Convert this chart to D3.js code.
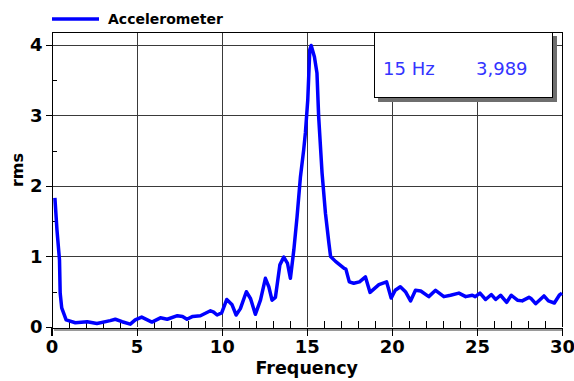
<!DOCTYPE html>
<html>
<head>
<meta charset="utf-8">
<script src="https://cdn.jsdelivr.net/npm/d3@7"></script>
<style>
  html, body { margin: 0; padding: 0; background: #fff; }
  svg { display: block; }
  text { font-family: "DejaVu Sans", Verdana, sans-serif; }
</style>
</head>
<body>
<svg id="chart" width="574" height="381"></svg>
<script>
// Spectrum of the accelerometer signal: frequency (Hz) vs rms amplitude
const freq = [0.2, 0.32, 0.47, 0.51, 0.6, 0.86, 1.4, 2.1, 2.67, 3.45, 3.75, 4.15, 4.63, 4.92, 5.3, 5.9,
  6.4, 6.8, 7.4, 7.7, 7.96, 8.3, 8.75, 9.34, 9.53, 9.73, 10.0, 10.3, 10.6, 10.85, 11.1, 11.45, 11.7,
  11.98, 12.28, 12.57, 12.77, 12.96, 13.16, 13.42, 13.65, 13.87, 14.04, 14.24, 14.43, 14.63, 14.82,
  14.92, 15.06, 15.18, 15.26, 15.45, 15.6, 15.7, 15.9, 16.1, 16.3, 16.4, 16.69, 17.2, 17.3, 17.5,
  17.76, 18.1, 18.45, 18.72, 19.24, 19.69, 19.96, 20.2, 20.5, 20.8, 21.1, 21.39, 21.7, 22.17, 22.57,
  23.06, 23.45, 23.94, 24.34, 24.73, 24.9, 25.18, 25.51, 25.85, 26.1, 26.39, 26.75, 27.02, 27.38,
  27.66, 28.06, 28.2, 28.45, 28.94, 29.2, 29.55, 29.84, 30.0];
const rms = [1.83, 1.38, 0.95, 0.48, 0.27, 0.1, 0.06, 0.075, 0.05, 0.09, 0.11, 0.075, 0.04, 0.1, 0.14, 0.07,
  0.13, 0.11, 0.16, 0.15, 0.11, 0.15, 0.16, 0.23, 0.21, 0.17, 0.2, 0.39, 0.32, 0.17, 0.26, 0.5, 0.4,
  0.18, 0.38, 0.69, 0.57, 0.38, 0.42, 0.88, 0.99, 0.9, 0.69, 1.09, 1.56, 2.13, 2.51,
  2.75, 3.22, 3.93, 3.989, 3.83, 3.6, 2.98, 2.18, 1.61, 1.19, 1.0, 0.93, 0.83, 0.82, 0.64,
  0.62, 0.64, 0.71, 0.49, 0.6, 0.64, 0.41, 0.52, 0.57, 0.5, 0.37, 0.52, 0.51, 0.43, 0.52,
  0.43, 0.45, 0.48, 0.43, 0.45, 0.43, 0.48, 0.39, 0.46, 0.39, 0.45, 0.35, 0.45, 0.38,
  0.37, 0.42, 0.4, 0.33, 0.44, 0.37, 0.34, 0.45, 0.48];

const xTicks = [0, 5, 10, 15, 20, 25, 30];
const yTicks = [0, 1, 2, 3, 4];
const xMinorTicks = d3.range(1, 30);
const yMinorTicks = [0.5, 1.5, 2.5, 3.5];

const seriesName = "Accelerometer";
const markerLabel = "15 Hz";
const markerValue = "3,989";

const svg = d3.select("#chart");
const plotLeft = 51.5, plotRight = 562, plotTop = 32, plotBottom = 327;

const x = d3.scaleLinear().domain([0, 30]).range([plotLeft, plotRight]);
const y = d3.scaleLinear().domain([0, 4.18]).range([plotBottom, plotTop]);

// shadow under the bottom axis
svg.append("rect")
  .attr("x", 54).attr("y", plotBottom + 1).attr("width", plotRight - 54 + 1).attr("height", 3)
  .attr("fill", "#9a9a9a");

// grid
const grid = svg.append("g").attr("shape-rendering", "crispEdges");
grid.selectAll(".vg").data(xTicks.filter(d => d > 0 && d < 30)).join("line")
  .attr("x1", d => Math.round(x(d)) + 0.5).attr("x2", d => Math.round(x(d)) + 0.5)
  .attr("y1", plotTop).attr("y2", plotBottom).attr("stroke", "#3a3a3a");
grid.selectAll(".hg").data(yTicks.filter(d => d > 0)).join("line")
  .attr("y1", d => Math.round(y(d)) + 0.5).attr("y2", d => Math.round(y(d)) + 0.5)
  .attr("x1", plotLeft).attr("x2", plotRight).attr("stroke", "#3a3a3a");

// frame (top and right)
grid.append("line").attr("x1", plotLeft).attr("x2", plotRight + 0.5)
  .attr("y1", plotTop + 0.5).attr("y2", plotTop + 0.5).attr("stroke", "#000");
grid.append("line").attr("x1", Math.round(plotRight) + 0.5).attr("x2", Math.round(plotRight) + 0.5)
  .attr("y1", plotTop).attr("y2", plotBottom).attr("stroke", "#000");

// x axis: major ticks outward, minor ticks inward
const xAxis = svg.append("g")
  .attr("transform", `translate(0,${plotBottom + 0.5})`)
  .call(d3.axisBottom(x).tickValues(xTicks).tickFormat(d3.format("d"))
    .tickSize(8).tickSizeOuter(0).tickPadding(5))
  .attr("shape-rendering", "crispEdges");
xAxis.select(".domain").attr("stroke", "#000");
xAxis.selectAll("text").attr("font-size", 18).attr("font-weight", "bold").attr("fill", "#000")
  .attr("font-family", "DejaVu Sans");
xAxis.selectAll(".minor").data(xMinorTicks.filter(d => d % 5 !== 0)).join("line")
  .attr("class", "minor")
  .attr("x1", d => Math.round(x(d)) + 0.5).attr("x2", d => Math.round(x(d)) + 0.5)
  .attr("y1", 0).attr("y2", -7).attr("stroke", "#000");
// extend the bottom line a little past the left axis
xAxis.append("line").attr("x1", plotLeft - 6).attr("x2", plotLeft).attr("y1", 0).attr("y2", 0).attr("stroke", "#000");

// y axis
const yAxis = svg.append("g")
  .attr("transform", `translate(${Math.round(plotLeft) - 0.5},0)`)
  .call(d3.axisLeft(y).tickValues(yTicks).tickFormat(d3.format("d"))
    .tickSize(6).tickSizeOuter(0).tickPadding(3))
  .attr("shape-rendering", "crispEdges");
yAxis.select(".domain").attr("stroke", "#000");
yAxis.selectAll("text").attr("font-size", 18).attr("font-weight", "bold").attr("fill", "#000")
  .attr("font-family", "DejaVu Sans");
yAxis.selectAll(".minor").data(yMinorTicks).join("line")
  .attr("class", "minor")
  .attr("y1", d => Math.round(y(d)) + 0.5).attr("y2", d => Math.round(y(d)) + 0.5)
  .attr("x1", 0).attr("x2", 5).attr("stroke", "#000");
yAxis.append("line").attr("x1", 0).attr("x2", 0).attr("y1", plotBottom).attr("y2", plotBottom + 9).attr("stroke", "#000");

// axis titles
svg.append("text").attr("x", (plotLeft + plotRight) / 2).attr("y", 374)
  .attr("text-anchor", "middle").attr("font-size", 17.5).attr("font-weight", "bold").text("Frequency");
svg.append("text").attr("transform", `translate(23,170) rotate(-90)`)
  .attr("text-anchor", "middle").attr("font-size", 16).attr("font-weight", "bold").text("rms");

// series line
const data = freq.map((f, i) => [f, rms[i]]);
svg.append("path").datum(data)
  .attr("fill", "none").attr("stroke", "#0000ff").attr("stroke-width", 3.5)
  .attr("stroke-linejoin", "round")
  .attr("d", d3.line().x(d => x(d[0])).y(d => y(d[1])));

// legend
svg.append("line").attr("x1", 52).attr("x2", 99).attr("y1", 19).attr("y2", 19)
  .attr("stroke", "#0000ff").attr("stroke-width", 3.5);
svg.append("text").attr("x", 108).attr("y", 24).attr("font-size", 14).attr("font-weight", "bold")
  .text(seriesName);

// marker readout box with drop shadow
const box = svg.append("g").attr("shape-rendering", "crispEdges");
box.append("rect").attr("x", 378).attr("y", 36).attr("width", 179).attr("height", 66).attr("fill", "#6e6e6e");
box.append("rect").attr("x", 374.5).attr("y", 32.5).attr("width", 178).attr("height", 65)
  .attr("fill", "#fff").attr("stroke", "#000");
svg.append("text").attr("x", 383).attr("y", 75).attr("font-size", 18).attr("fill", "#3434ff").text(markerLabel);
svg.append("text").attr("x", 476).attr("y", 75).attr("font-size", 18).attr("fill", "#3434ff").text(markerValue);
</script>
</body>
</html>
